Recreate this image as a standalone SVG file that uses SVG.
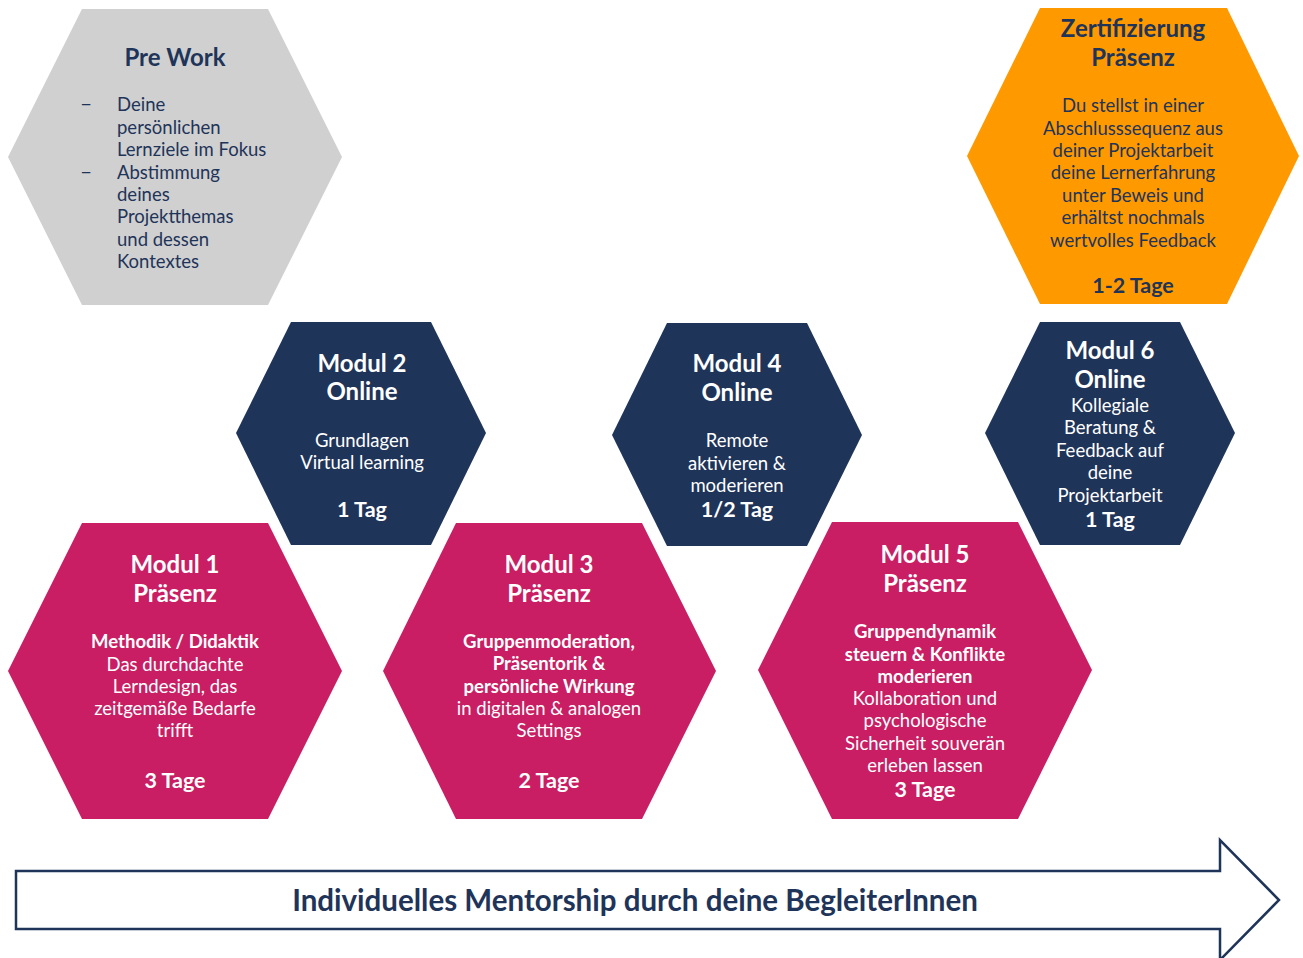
<svg xmlns="http://www.w3.org/2000/svg" width="1303" height="958" viewBox="0 0 1303 958">
<style>
text{font-family:Lato,"Open Sans","Liberation Sans",sans-serif;text-anchor:middle}
.t{font-size:24px;font-weight:700}
.b{font-size:18.5px}
.bb{font-size:18.5px;font-weight:700}
.d{font-size:21.5px;font-weight:700}
.w{fill:#ffffff}
.n{fill:#1f3459}
.grey{fill:#d0d0d0}
.orange{fill:#fe9a00}
.navy{fill:#1f3459}
.pink{fill:#c91e63}
.l{text-anchor:start}
</style>
<rect width="1303" height="958" fill="#ffffff"/>

<g id="prework">
<polygon class="grey" points="8,157 82,9 268,9 342,157 268,305 82,305"/>
<text class="t n" x="175" y="66">Pre Work</text>
<g class="b n">
<text class="l" x="80" y="111" style="font-size:21px">–</text>
<text class="l" x="117" y="111">Deine</text>
<text class="l" x="117" y="134">persönlichen</text>
<text class="l" x="117" y="156">Lernziele im Fokus</text>
<text class="l" x="80" y="179" style="font-size:21px">–</text>
<text class="l" x="117" y="179">Abstimmung</text>
<text class="l" x="117" y="201">deines</text>
<text class="l" x="117" y="223">Projektthemas</text>
<text class="l" x="117" y="246">und dessen</text>
<text class="l" x="117" y="268">Kontextes</text>
</g>
</g>

<g id="zertifizierung">
<polygon class="orange" points="967,156 1040,8 1227,8 1299,156 1227,304 1040,304"/>
<text class="t n" x="1133" y="37">Zertifizierung</text>
<text class="t n" x="1133" y="66">Präsenz</text>
<g class="b n">
<text x="1133" y="112">Du stellst in einer</text>
<text x="1133" y="135">Abschlusssequenz aus</text>
<text x="1133" y="157">deiner Projektarbeit</text>
<text x="1133" y="179">deine Lernerfahrung</text>
<text x="1133" y="202">unter Beweis und</text>
<text x="1133" y="224">erhältst nochmals</text>
<text x="1133" y="247">wertvolles Feedback</text>
</g>
<text class="d n" x="1133" y="293">1-2 Tage</text>
</g>

<g id="modul2">
<polygon class="navy" points="236,433 291,322 431,322 486,433 431,545 291,545"/>
<text class="t w" x="362" y="372">Modul 2</text>
<text class="t w" x="362" y="400">Online</text>
<text class="b w" x="362" y="447">Grundlagen</text>
<text class="b w" x="362" y="469">Virtual learning</text>
<text class="d w" x="362" y="517">1 Tag</text>
</g>

<g id="modul4">
<polygon class="navy" points="612,435 667,323 807,323 862,435 807,546 667,546"/>
<text class="t w" x="737" y="372">Modul 4</text>
<text class="t w" x="737" y="401">Online</text>
<text class="b w" x="737" y="447">Remote</text>
<text class="b w" x="737" y="470">aktivieren &amp;</text>
<text class="b w" x="737" y="492">moderieren</text>
<text class="d w" x="737" y="517">1/2 Tag</text>
</g>

<g id="modul6">
<polygon class="navy" points="985,433 1040,322 1180,322 1235,433 1180,545 1040,545"/>
<text class="t w" x="1110" y="359">Modul 6</text>
<text class="t w" x="1110" y="388">Online</text>
<text class="b w" x="1110" y="412">Kollegiale</text>
<text class="b w" x="1110" y="434">Beratung &amp;</text>
<text class="b w" x="1110" y="457">Feedback auf</text>
<text class="b w" x="1110" y="479">deine</text>
<text class="b w" x="1110" y="502">Projektarbeit</text>
<text class="d w" x="1110" y="527">1 Tag</text>
</g>

<g id="modul1">
<polygon class="pink" points="8,671 82,523 268,523 342,671 268,819 82,819"/>
<text class="t w" x="175" y="573">Modul 1</text>
<text class="t w" x="175" y="602">Präsenz</text>
<text class="bb w" x="175" y="648">Methodik / Didaktik</text>
<text class="b w" x="175" y="671">Das durchdachte</text>
<text class="b w" x="175" y="693">Lerndesign, das</text>
<text class="b w" x="175" y="715">zeitgemäße Bedarfe</text>
<text class="b w" x="175" y="737">trifft</text>
<text class="d w" x="175" y="788">3 Tage</text>
</g>

<g id="modul3">
<polygon class="pink" points="383,671 456,523 642,523 716,671 642,819 456,819"/>
<text class="t w" x="549" y="573">Modul 3</text>
<text class="t w" x="549" y="602">Präsenz</text>
<text class="bb w" x="549" y="648">Gruppenmoderation,</text>
<text class="bb w" x="549" y="670">Präsentorik &amp;</text>
<text class="bb w" x="549" y="693">persönliche Wirkung</text>
<text class="b w" x="549" y="715">in digitalen &amp; analogen</text>
<text class="b w" x="549" y="737">Settings</text>
<text class="d w" x="549" y="788">2 Tage</text>
</g>

<g id="modul5">
<polygon class="pink" points="758,670 832,522 1018,522 1092,670 1018,819 832,819"/>
<text class="t w" x="925" y="563">Modul 5</text>
<text class="t w" x="925" y="592">Präsenz</text>
<text class="bb w" x="925" y="638">Gruppendynamik</text>
<text class="bb w" x="925" y="661">steuern &amp; Konflikte</text>
<text class="bb w" x="925" y="683">moderieren</text>
<text class="b w" x="925" y="705">Kollaboration und</text>
<text class="b w" x="925" y="727">psychologische</text>
<text class="b w" x="925" y="750">Sicherheit souverän</text>
<text class="b w" x="925" y="772">erleben lassen</text>
<text class="d w" x="925" y="797">3 Tage</text>
</g>

<g id="mentorship-arrow">
<polygon points="16,871 1220,871 1220,840 1279,900 1220,960 1220,929 16,929" fill="#ffffff" stroke="#1f3459" stroke-width="2.5"/>
<text class="n" x="635" y="911" style="font-size:29.5px;font-weight:700">Individuelles Mentorship durch deine BegleiterInnen</text>
</g>
</svg>
